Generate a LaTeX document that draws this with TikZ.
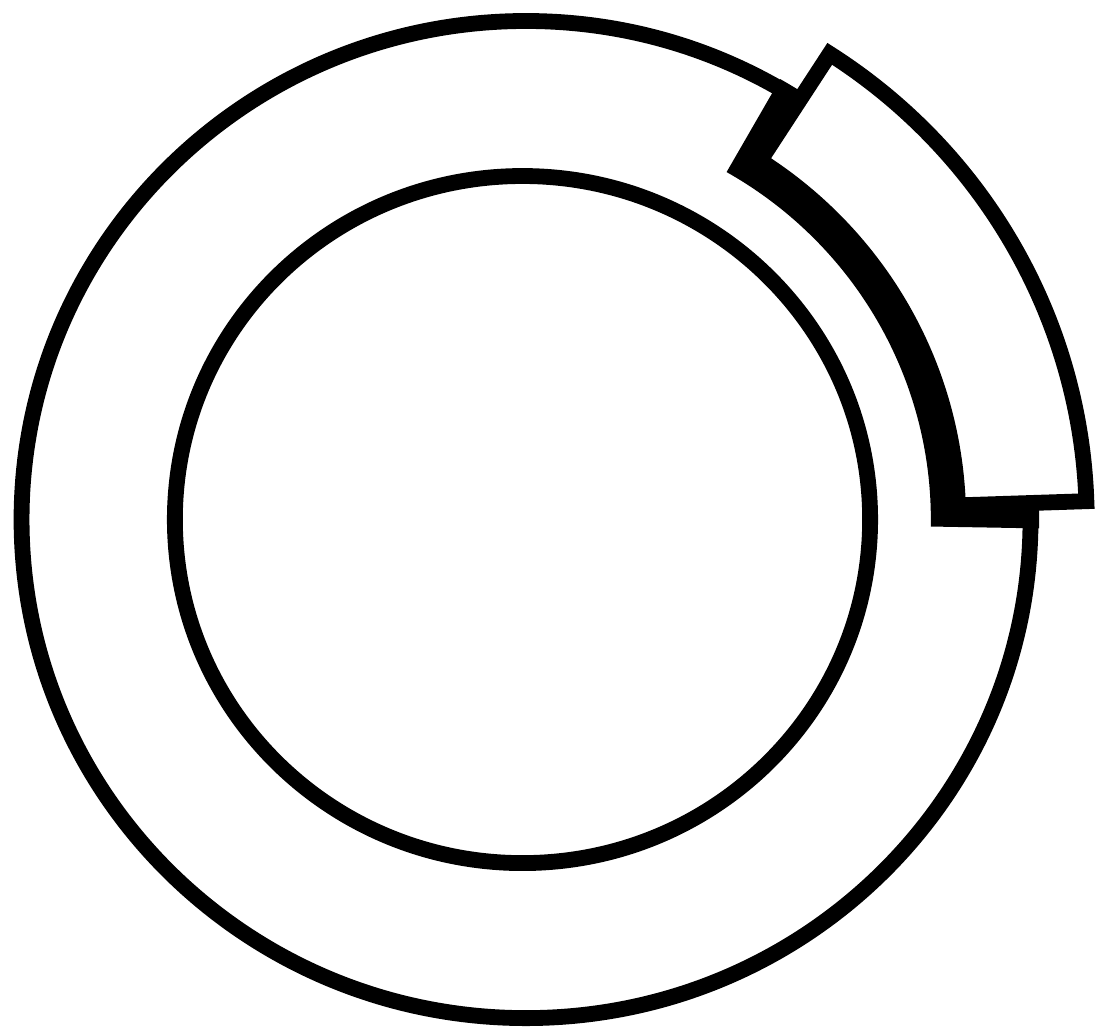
\documentclass[tikz,border=0pt]{standalone}
\begin{document}
\begin{tikzpicture}[x={(0.1012mm,0)},y={(0,0.1mm)},rim/.style={line width=4.5pt},line join=miter]
  \useasboundingbox (0,0) rectangle (1083,1029);
  \draw[rim] (519.8,509.5) circle (498.5);
  \draw[rim] (516.3,509.5) circle (343.5);
  \begin{scope}[shift={(519.8,509.5)}]
    \fill (-1:400) arc[start angle=-1,end angle=60.3,radius=400] -- (60.3:507)
      arc[start angle=60.3,end angle=-1,radius=507] -- cycle;
    \filldraw[rim,fill=white] (1.9:427) -- (1.9:554) arc[start angle=1.9,end angle=57.2,radius=554]
      -- (57.2:427) arc[start angle=57.2,end angle=1.9,radius=427] -- cycle;
  \end{scope}
\end{tikzpicture}
\end{document}
